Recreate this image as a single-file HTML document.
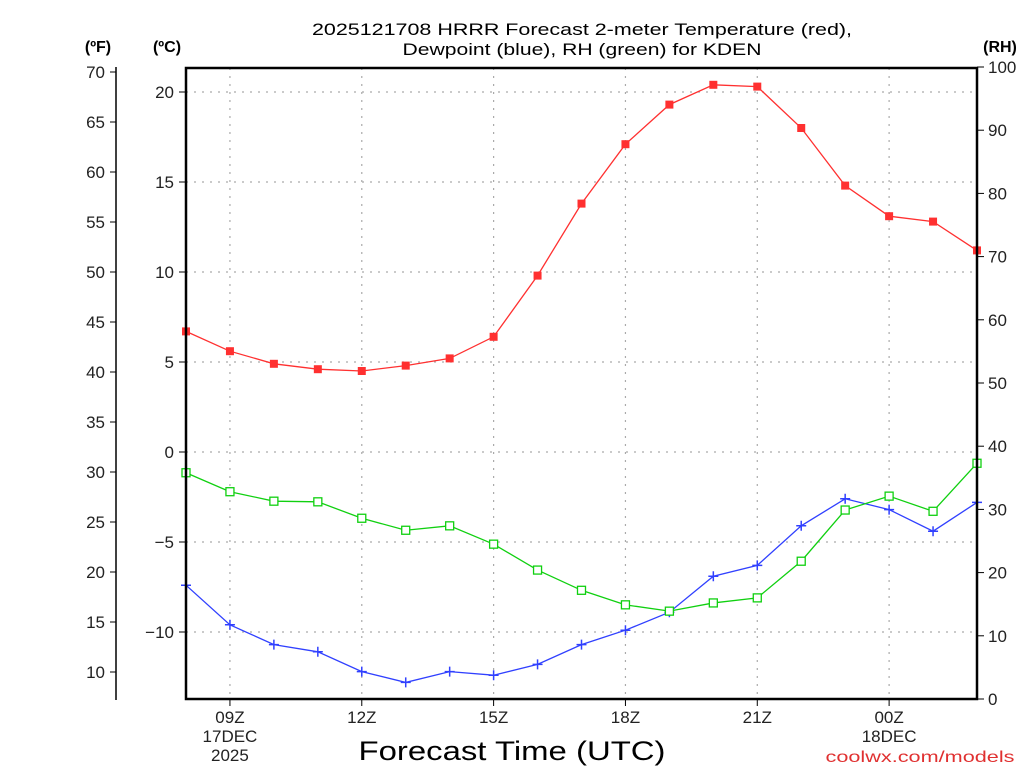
<!DOCTYPE html>
<html><head><meta charset="utf-8"><style>
html,body{margin:0;padding:0;background:#fff;}
svg{display:block;font-family:"Liberation Sans","DejaVu Sans",sans-serif;}
</style></head><body>
<svg id="chart" width="1024" height="768" viewBox="0 0 1024 768" xmlns="http://www.w3.org/2000/svg">
<text x="582" y="35" font-size="17" text-anchor="middle" fill="#000" textLength="540" lengthAdjust="spacingAndGlyphs">2025121708 HRRR Forecast 2-meter Temperature (red),</text>
<text x="582" y="55" font-size="17" text-anchor="middle" fill="#000" textLength="359" lengthAdjust="spacingAndGlyphs">Dewpoint (blue), RH (green) for KDEN</text>
<text x="98" y="52" font-size="16" font-weight="bold" text-anchor="middle">(ºF)</text>
<text x="167" y="52" font-size="16" font-weight="bold" text-anchor="middle">(ºC)</text>
<text x="1000" y="52" font-size="16" font-weight="bold" text-anchor="middle">(RH)</text>
<text x="512" y="760" font-size="27" text-anchor="middle" textLength="307" lengthAdjust="spacingAndGlyphs">Forecast Time (UTC)</text>
<text x="920" y="762" font-size="16" fill="#e03030" text-anchor="middle" textLength="189" lengthAdjust="spacingAndGlyphs">coolwx.com/models</text>
<g id="grid"></g><g id="axes"></g><g id="series"></g>
<rect x="186" y="68" width="791" height="631" fill="none" stroke="#000" stroke-width="2.5"/>
</svg>
<script>
const hours = [8,9,10,11,12,13,14,15,16,17,18,19,20,21,22,23,24,25,26];
const tempC = [6.7,5.6,4.9,4.6,4.5,4.8,5.2,6.4,9.8,13.8,17.1,19.3,20.4,20.3,18.0,14.8,13.1,12.8,11.2];
const dewC = [-7.4,-9.6,-10.7,-11.1,-12.2,-12.8,-12.2,-12.4,-11.8,-10.7,-9.9,-8.9,-6.9,-6.3,-4.1,-2.6,-3.2,-4.4,-2.8];
const rh = [35.8,32.8,31.3,31.2,28.6,26.7,27.4,24.5,20.4,17.2,14.9,13.9,15.2,16.0,21.8,29.9,32.1,29.7,37.3];
const cTicks = [20,15,10,5,0,-5,-10];
const fTicks = [70,65,60,55,50,45,40,35,30,25,20,15,10];
const rhTicks = [100,90,80,70,60,50,40,30,20,10,0];
const xTickHours = [9,12,15,18,21,24];
const xTickLabels = ["09Z","12Z","15Z","18Z","21Z","00Z"];
const xSubLabels = [["17DEC","2025"],[],[],[],[],["18DEC"]];

const NS="http://www.w3.org/2000/svg";
const X0=186,X1=977,Y0=68,Y1=699;
const xS=h=>X0+(h-8)*(X1-X0)/18;
const yC=c=>452-18*c;
const yF=f=>yC((f-32)*5/9);
const yR=r=>Y1-(r)*(Y1-67)/100;
function mk(tag,attrs,parent){const e=document.createElementNS(NS,tag);for(const k in attrs)e.setAttribute(k,attrs[k]);parent.appendChild(e);return e;}
const grid=document.getElementById('grid'),axes=document.getElementById('axes'),ser=document.getElementById('series');

cTicks.forEach(c=>{const y=yC(c);
 const g=mk('line',{x1:X0,x2:X1,y1:y,y2:y,stroke:'#aaa','stroke-dasharray':'2 6','stroke-width':1.2},grid);
 
 
 mk('line',{x1:X0-7,x2:X0,y1:y,y2:y,stroke:'#000'},axes);
 const t=mk('text',{x:174,y:y+6,'font-size':17,'text-anchor':'end',fill:'#222'},axes);t.textContent=c<0?'\u2212'+Math.abs(c):c;
 
 
});
mk('line',{x1:116,x2:116,y1:67,y2:700,stroke:'#000','stroke-width':1.5},axes);
fTicks.forEach(f=>{const y=yF(f);
 mk('line',{x1:110,x2:116,y1:y,y2:y,stroke:'#000'},axes);
 const t=mk('text',{x:105,y:y+6,'font-size':17,'text-anchor':'end',fill:'#222'},axes);t.textContent=f;
 
 
});
rhTicks.forEach(r=>{const y=yR(r);
 mk('line',{x1:X1,x2:X1+7,y1:y,y2:y,stroke:'#000'},axes);
 const t=mk('text',{x:988,y:y+6,'font-size':17,'text-anchor':'start',fill:'#222'},axes);t.textContent=r;
 
 
});
xTickHours.forEach((h,i)=>{const x=xS(h);
 const g=mk('line',{x1:x,x2:x,y1:Y0,y2:Y1,stroke:'#aaa','stroke-dasharray':'2 6','stroke-width':1.2},grid);
 
 
 mk('line',{x1:x,x2:x,y1:Y1,y2:Y1+7,stroke:'#000'},axes);
 [xTickLabels[i]].concat(xSubLabels[i]).forEach((s,j)=>{
  const t=mk('text',{x:x,y:723+j*19,'font-size':17,'text-anchor':'middle',fill:'#222'},axes);t.textContent=s;
  
  
 });
});
function line(vals,yf,color,name){
 const pts=vals.map((v,i)=>xS(hours[i])+','+yf(v)).join(' ');
 const p=mk('polyline',{points:pts,fill:'none',stroke:color,'stroke-width':1.3},ser);
 
 
}
line(tempC,yC,'#ff3030','temperature-line');
line(dewC,yC,'#3040ff','dewpoint-line');
line(rh,yR,'#10d010','rh-line');
tempC.forEach((v,i)=>{const m=mk('rect',{x:xS(hours[i])-4,y:yC(v)-4,width:8,height:8,fill:'#ff3030'},ser);
 
 });
dewC.forEach((v,i)=>{const x=xS(hours[i]),y=yC(v);
 const m=mk('path',{d:`M${x-5},${y}H${x+5}M${x},${y-5}V${y+5}`,stroke:'#3040ff','stroke-width':1.5},ser);
 
 });
rh.forEach((v,i)=>{const m=mk('rect',{x:xS(hours[i])-4,y:yR(v)-4,width:8,height:8,fill:'#fff',stroke:'#10d010','stroke-width':1.3},ser);
 
 });
</script>
</body></html>
